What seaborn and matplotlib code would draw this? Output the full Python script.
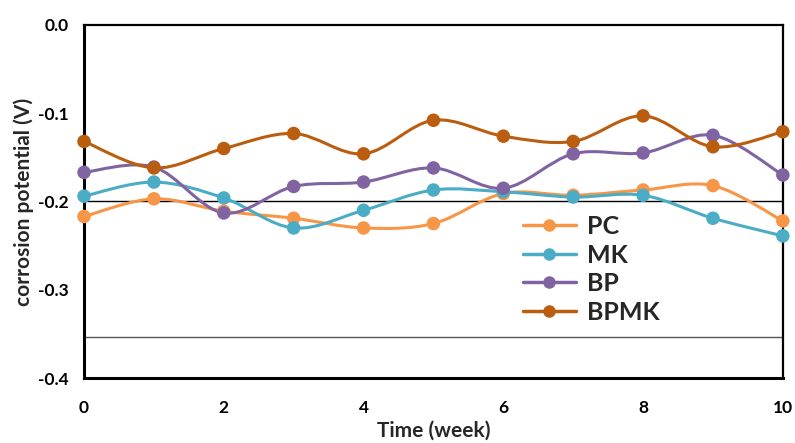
import numpy as np
import pandas as pd
import matplotlib
matplotlib.use('Agg')
import matplotlib.pyplot as plt
from matplotlib.path import Path
from matplotlib.patches import PathPatch
from matplotlib.lines import Line2D
import seaborn as sns

# data
weeks = [0, 1, 2, 3, 4, 5, 6, 7, 8, 9, 10]
pc = [-0.217, -0.197, -0.211, -0.219, -0.230, -0.225, -0.191, -0.193, -0.187, -0.182, -0.222]
mk = [-0.194, -0.178, -0.196, -0.230, -0.210, -0.187, -0.189, -0.195, -0.193, -0.219, -0.239]
bp = [-0.167, -0.161, -0.213, -0.183, -0.178, -0.162, -0.185, -0.146, -0.145, -0.125, -0.170]
bpmk = [-0.132, -0.162, -0.140, -0.123, -0.146, -0.108, -0.126, -0.132, -0.103, -0.138, -0.121]
series_names = ['PC', 'MK', 'BP', 'BPMK']
series_colors = ['#F79646', '#4BACC6', '#8064A2', '#BA5D0E']
ref_lines = [-0.2, -0.353]

sns.set_theme(style='white')
plt.rcParams['font.family'] = ['Lato', 'DejaVu Sans']
plt.rcParams['font.weight'] = 'bold'

df = pd.DataFrame({'week': weeks * 4,
                   'value': pc + mk + bp + bpmk,
                   'series': sum([[n] * len(weeks) for n in series_names], [])})

fig = plt.figure(figsize=(7.95, 4.43), dpi=100)
ax = fig.add_axes([0.1057, 0.1467, 0.879, 0.797])

# reference lines
ax.axhline(ref_lines[0], color='black', lw=1.0, zorder=1)
ax.axhline(ref_lines[1], color='#555555', lw=1.0, zorder=1)


def smooth_path(xs, ys):
    # Catmull-Rom style smoothing as cubic Bezier segments (like Excel's smoothed line)
    pts = np.column_stack([xs, ys]).astype(float)
    ext = np.vstack([pts[0], pts, pts[-1]])
    verts = [pts[0]]
    codes = [Path.MOVETO]
    for i in range(len(pts) - 1):
        p0, p1, p2, p3 = ext[i], ext[i + 1], ext[i + 2], ext[i + 3]
        c1 = p1 + (p2 - p0) / 6.0
        c2 = p2 - (p3 - p1) / 6.0
        verts += [c1, c2, p2]
        codes += [Path.CURVE4] * 3
    return Path(verts, codes)


for name, color in zip(series_names, series_colors):
    sub = df[df['series'] == name]
    patch = PathPatch(smooth_path(sub['week'], sub['value']), facecolor='none',
                      edgecolor=color, lw=2.2, zorder=2, transform=ax.transData)
    ax.add_patch(patch)

sns.scatterplot(data=df, x='week', y='value', hue='series', palette=series_colors,
                hue_order=series_names, s=95, edgecolor='none', legend=False,
                zorder=3, ax=ax, clip_on=False)

ax.set_xlim(0, 10)
ax.set_ylim(-0.4, 0.0)
ax.set_xticks([0, 2, 4, 6, 8, 10])
ax.set_yticks([-0.4, -0.3, -0.2, -0.1, 0.0])
ax.set_yticklabels(['-0.4', '-0.3', '-0.2', '-0.1', '0.0'])
ax.tick_params(axis='both', direction='out', length=5, width=1.5, colors='black',
               labelsize=12.5, pad=6)
ax.tick_params(axis='x', pad=11)
for lab in ax.get_xticklabels() + ax.get_yticklabels():
    lab.set_fontweight('bold')

ax.set_xlabel('Time (week)', fontsize=15, fontweight='bold', labelpad=3)
ax.set_ylabel('corrosion potential (V)', fontsize=15, fontweight='bold', labelpad=3)

for side in ['left', 'bottom']:
    ax.spines[side].set_linewidth(2.2)
    ax.spines[side].set_color('black')
for side in ['top', 'right']:
    ax.spines[side].set_linewidth(1.6)
    ax.spines[side].set_color('black')

handles = [Line2D([0], [0], color=c, lw=2.5, marker='o', markersize=9,
                  markeredgewidth=0) for c in series_colors]
ax.legend(handles, series_names, loc='upper left', bbox_to_anchor=(0.596, 0.525),
          frameon=False, handlelength=2.1, handletextpad=0.45,
          labelspacing=0.22, prop={'weight': 'bold', 'size': 18})

fig.savefig('out.png', dpi=100)
